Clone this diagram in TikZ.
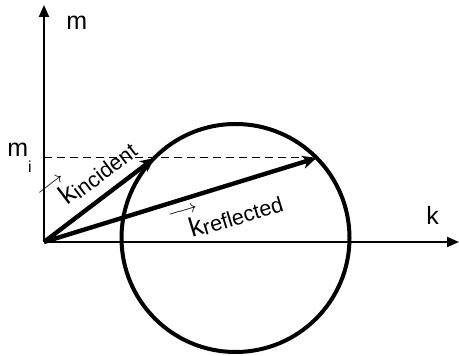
\documentclass[tikz,border=0pt]{standalone}
\usepackage{amsmath}
\usepackage{fontspec}
\setmainfont{Liberation Sans}
\usetikzlibrary{arrows.meta}
\tikzset{
  axis/.style={line width=1pt, -{Triangle[length=6pt,width=5pt]}},
  vec/.style={line width=2.2pt, -{Stealth[length=7pt,width=6.5pt,inset=2pt]}},
  lbl/.style={inner sep=0pt, font=\fontsize{12.5}{14}\selectfont},
  veclbl/.style={inner sep=0pt, font=\fontsize{13.5}{15}\selectfont},
}
\newcommand{\kvec}[1]{k\llap{\raisebox{11.5pt}{$\scriptstyle\longrightarrow$}\kern0pt}\raisebox{-1pt}{\fontsize{10.8}{12}\selectfont #1}}
\begin{document}
\begin{tikzpicture}[x=0.5pt,y=-0.5pt]
\useasboundingbox (0,0) rectangle (459,356);
\coordinate (origin) at (44,242);
\coordinate (mtop) at (44,5);
\coordinate (kend) at (459,242);
\coordinate (centre) at (235.5,238);
\coordinate (inc) at (154.5,158);
\coordinate (refl) at (316.5,158);
\coordinate (mi) at (44,158);
\draw[axis] (origin) -- (mtop);
\draw[axis] (origin) -- (kend);
\draw[dashed, dash pattern=on 4pt off 2.5pt, line width=0.5pt] (mi) -- (refl);
\draw[line width=2pt] (centre) circle[radius=114];
\draw[vec] (origin) -- (inc) node[veclbl, pos=0.61, sloped, above=5pt] {\kvec{incident}};
\draw[vec] (origin) -- (refl) node[veclbl, pos=0.67, sloped, below=3.5pt] {\kvec{reflected}};
\node[lbl, anchor=base west] (mlabel) at (66,30) {m};
\node[lbl, anchor=base west] (klabel) at (426,225) {k};
\node[lbl, anchor=base west] (milabel) at (7,157) {m\raisebox{-8pt}{\fontsize{8}{8}\selectfont i}};
\end{tikzpicture}
\end{document}
